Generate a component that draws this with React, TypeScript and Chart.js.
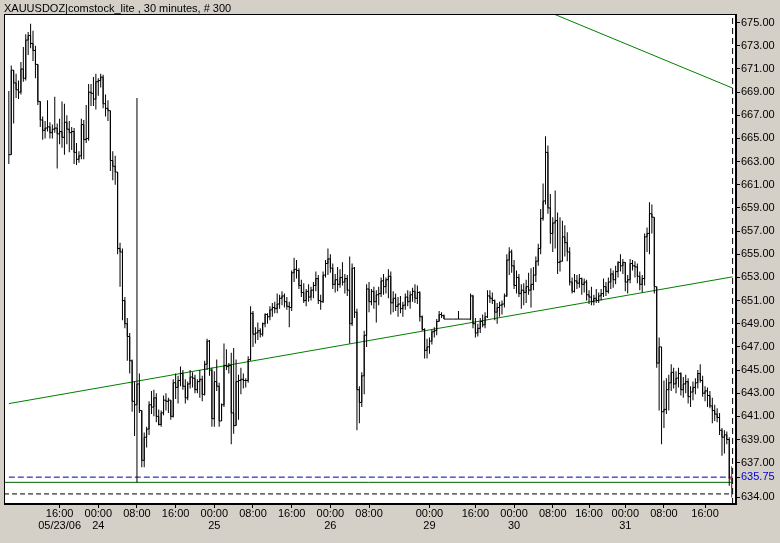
import React, { useEffect, useRef } from 'react';
import { Chart, registerables } from 'chart.js';

Chart.register(...registerables);

const TITLE = 'XAUUSDOZ|comstock_lite , 30 minutes, # 300';

const HIGHS = [
  669.1, 671.3, 670.9, 670.6, 670.0, 671.6, 672.9, 674.0, 674.2, 674.9,
  674.3, 673.0, 671.4, 668.2, 666.9, 666.5, 668.3, 666.4, 666.2, 668.6,
  666.3, 666.7, 668.2, 668.0, 667.0, 666.5, 666.0, 665.9, 664.6, 663.9,
  666.7, 666.6, 667.9, 669.7, 669.7, 670.3, 670.6, 670.2, 670.6, 670.5,
  668.8, 668.3, 667.4, 663.9, 663.5, 662.1, 656.0, 655.5, 651.3, 649.5,
  648.2, 645.9, 644.0, 668.5, 644.7, 641.5, 639.6, 640.1, 642.3, 643.2,
  643.3, 643.0, 641.6, 641.5, 642.8, 643.0, 642.6, 642.4, 644.2, 644.7,
  644.5, 645.3, 645.0, 644.2, 644.0, 645.0, 644.8, 644.6, 644.2, 645.0,
  644.5, 645.8, 647.7, 647.6, 645.2, 644.9, 645.9, 643.9, 642.1, 647.3,
  646.8, 645.6, 646.5, 646.9, 645.9, 644.6, 645.2, 644.7, 644.3, 646.2,
  650.5, 650.1, 648.7, 649.1, 648.6, 649.1, 649.9, 649.9, 650.5, 650.8,
  650.9, 651.6, 651.5, 651.8, 651.6, 651.3, 650.9, 653.6, 654.7, 654.5,
  653.8, 652.8, 652.5, 652.0, 652.4, 652.2, 652.6, 653.5, 653.2, 651.5,
  653.5, 654.5, 655.5, 655.0, 654.2, 653.3, 653.9, 653.7, 654.3, 653.3,
  653.2, 654.8, 654.2, 653.9, 650.3, 643.6, 644.8, 648.4, 652.4, 652.6,
  652.0, 652.2, 651.9, 652.2, 653.0, 653.3, 653.0, 653.7, 653.5, 651.8,
  651.6, 651.3, 651.4, 650.9, 651.6, 651.9, 651.8, 652.1, 652.4, 652.3,
  651.8, 649.7, 648.6, 647.7, 647.8, 648.5, 648.7, 649.4, 650.1, 650.0,
  649.8, 649.4, 649.4, 649.4, 649.4, 649.4, 650.1, 649.4, 649.4, 649.4,
  649.4, 651.6, 651.5, 649.5, 649.0, 649.5, 649.8, 650.0, 651.9, 651.9,
  651.7, 651.1, 650.8, 650.9, 651.0, 651.6, 655.0, 655.6, 655.4, 654.5,
  653.6, 653.3, 652.4, 652.5, 652.8, 653.4, 653.8, 653.9, 654.8, 655.9,
  658.9, 661.1, 665.2, 664.4, 660.2, 658.2, 660.5, 658.6, 658.2, 657.9,
  657.5, 656.9, 655.6, 653.0, 653.3, 653.2, 653.3, 653.0, 652.9, 652.8,
  651.9, 652.2, 651.5, 652.0, 651.7, 652.0, 652.9, 652.6, 653.0, 653.8,
  653.6, 654.0, 654.4, 655.0, 654.6, 654.3, 653.2, 654.6, 654.5, 654.4,
  654.2, 653.5, 653.2, 656.8, 657.3, 659.5, 659.3, 658.2, 652.2, 647.8,
  647.0, 644.1, 644.3, 644.6, 645.5, 645.2, 644.9, 645.2, 644.8, 644.4,
  644.6, 644.3, 643.6, 644.0, 644.3, 645.0, 645.5, 644.5, 643.6, 643.5,
  643.2, 642.6, 642.0, 641.7, 641.3, 640.0, 639.8, 639.7, 639.2, 636.7,
];

const LOWS = [
  662.8, 663.6, 666.3, 668.5, 668.4, 668.8, 669.9, 670.0, 672.2, 672.8,
  671.7, 670.2, 667.9, 666.0, 664.9, 665.0, 665.6, 665.0, 665.0, 665.5,
  662.4, 664.5, 664.2, 663.6, 664.5, 663.8, 664.0, 662.8, 662.7, 662.9,
  663.2, 663.2, 664.6, 664.8, 667.8, 667.8, 667.5, 668.7, 669.4, 667.6,
  666.9, 666.5, 662.2, 661.4, 661.0, 655.0, 652.2, 649.3, 648.6, 645.8,
  644.7, 641.4, 639.3, 635.3, 641.3, 636.6, 636.6, 638.3, 639.4, 641.2,
  641.0, 640.5, 640.2, 640.1, 641.1, 641.5, 641.3, 640.7, 640.9, 642.5,
  642.1, 643.6, 643.3, 642.1, 642.4, 643.4, 643.5, 643.0, 643.0, 642.6,
  642.3, 642.8, 645.0, 644.5, 640.1, 640.1, 643.2, 640.1, 640.7, 641.8,
  645.0, 644.7, 638.6, 639.5, 640.6, 640.7, 642.9, 643.4, 643.5, 643.9,
  645.8, 647.0, 647.3, 647.6, 647.8, 647.9, 648.7, 649.0, 649.3, 649.6,
  649.9, 649.9, 650.3, 650.6, 650.4, 650.2, 648.7, 650.1, 652.6, 652.9,
  652.0, 651.3, 650.8, 650.5, 650.9, 651.0, 651.2, 651.8, 650.7, 650.2,
  650.8, 653.0, 653.2, 653.4, 652.0, 651.7, 651.8, 652.1, 652.3, 651.6,
  651.4, 647.3, 648.8, 649.5, 639.8, 640.4, 641.8, 642.9, 647.0, 650.0,
  650.6, 650.3, 649.1, 650.6, 651.3, 651.5, 651.6, 651.2, 649.8, 650.0,
  650.1, 649.6, 649.9, 649.6, 650.2, 650.5, 650.3, 650.9, 650.8, 650.7,
  649.2, 648.4, 646.0, 646.0, 646.4, 647.2, 647.8, 648.0, 649.2, 649.5,
  649.4, 649.4, 649.4, 649.4, 649.4, 649.4, 649.4, 649.4, 649.4, 649.4,
  649.4, 649.3, 648.6, 647.8, 647.9, 648.2, 648.7, 648.6, 649.5, 650.8,
  650.7, 649.3, 649.0, 649.6, 649.8, 650.4, 651.3, 653.2, 653.4, 652.0,
  651.6, 651.3, 650.3, 650.6, 650.8, 651.5, 650.4, 651.9, 652.6, 654.0,
  655.0, 657.9, 659.3, 658.5, 655.9, 655.2, 655.5, 653.3, 653.5, 654.5,
  654.8, 654.4, 652.3, 651.6, 651.7, 652.0, 652.1, 651.5, 651.7, 651.0,
  650.7, 650.6, 650.6, 650.8, 650.8, 651.0, 651.3, 651.4, 651.6, 652.0,
  652.1, 652.4, 653.0, 653.5, 653.3, 651.8, 651.6, 652.5, 653.6, 653.0,
  652.5, 651.9, 651.7, 652.3, 655.2, 655.0, 656.8, 651.6, 645.2, 641.5,
  638.6, 640.0, 641.2, 641.5, 643.2, 643.4, 643.0, 643.5, 642.8, 642.6,
  643.0, 642.1, 641.8, 642.4, 642.9, 643.4, 643.9, 642.7, 642.3, 641.8,
  641.7, 640.4, 640.6, 640.5, 639.4, 637.6, 637.8, 638.6, 635.0, 634.0,
];

const CLOSES = [
  663.6, 670.9, 669.8, 669.2, 669.0, 671.0, 670.2, 673.5, 673.9, 673.2,
  672.6, 671.4, 668.2, 666.6, 665.7, 665.9, 666.0, 665.5, 665.8, 665.9,
  665.4, 665.6, 665.1, 666.4, 665.8, 665.5, 665.6, 663.8, 663.2, 663.5,
  666.2, 664.9, 665.0, 669.0, 668.9, 668.4, 669.9, 670.0, 670.3, 668.0,
  667.6, 667.4, 663.1, 662.6, 662.1, 655.5, 655.2, 651.0, 649.0, 647.9,
  645.8, 642.3, 642.0, 643.8, 641.5, 637.2, 639.2, 639.9, 642.0, 641.8,
  642.6, 641.0, 640.3, 641.3, 642.4, 642.3, 642.4, 641.0, 643.9, 643.5,
  644.1, 644.7, 643.6, 642.6, 643.8, 644.4, 644.3, 643.3, 644.0, 644.2,
  642.9, 645.5, 647.5, 645.0, 640.8, 644.0, 643.6, 640.6, 642.0, 645.4,
  645.3, 645.4, 641.3, 640.2, 644.0, 644.1, 644.2, 644.1, 644.1, 645.9,
  649.9, 648.1, 648.2, 648.4, 648.1, 649.0, 649.8, 649.6, 650.2, 650.4,
  650.3, 650.7, 651.2, 651.4, 650.9, 650.5, 650.4, 653.4, 653.7, 653.6,
  652.3, 651.7, 651.0, 651.8, 651.3, 651.9, 652.3, 652.9, 651.0, 650.9,
  653.2, 654.2, 654.6, 653.8, 652.4, 652.8, 652.4, 653.0, 652.6, 652.9,
  651.9, 649.0, 653.8, 650.0, 643.3, 642.2, 644.5, 648.0, 652.0, 650.9,
  651.8, 650.9, 651.5, 651.6, 652.7, 652.2, 652.8, 653.1, 650.8, 651.2,
  650.5, 650.7, 650.3, 650.6, 651.3, 650.9, 651.5, 651.8, 651.2, 651.7,
  649.6, 648.5, 646.7, 647.0, 647.5, 648.3, 648.4, 649.2, 649.8, 649.7,
  649.4, 649.4, 649.4, 649.4, 649.4, 649.4, 649.4, 649.4, 649.4, 649.4,
  649.4, 651.4, 649.0, 648.2, 648.6, 649.2, 648.9, 649.6, 651.4, 651.2,
  651.0, 650.0, 650.4, 650.6, 650.7, 651.4, 654.5, 655.2, 654.0, 652.3,
  653.0, 651.6, 651.9, 651.7, 652.2, 651.9, 652.4, 653.2, 654.4, 655.5,
  658.1, 659.6, 663.8, 659.0, 656.8, 657.7, 657.9, 654.3, 654.4, 656.5,
  656.0, 655.2, 652.6, 651.8, 652.7, 652.5, 652.9, 652.4, 652.6, 651.5,
  651.3, 650.9, 651.2, 651.0, 651.4, 651.6, 652.2, 651.8, 652.6, 653.3,
  652.8, 653.5, 654.3, 654.0, 654.3, 652.6, 652.8, 654.2, 654.0, 653.9,
  653.1, 652.4, 652.9, 656.5, 656.8, 658.5, 658.2, 652.2, 645.6, 647.0,
  641.4, 641.6, 643.3, 643.9, 644.8, 643.8, 644.3, 644.7, 643.3, 643.8,
  644.0, 642.7, 643.1, 643.5, 643.9, 644.7, 644.1, 643.0, 643.2, 642.8,
  641.9, 641.5, 641.2, 640.9, 639.8, 639.2, 639.4, 639.0, 635.6, 634.8,
];

const TICK_BARS = [21, 37, 53, 69, 85, 101, 117, 133, 149, 174, 193, 209, 225, 240, 255, 271, 288];
const TIME_LABELS = ['16:00', '00:00', '08:00', '16:00', '00:00', '08:00', '16:00', '00:00', '08:00', '00:00', '16:00', '00:00', '08:00', '16:00', '00:00', '08:00', '16:00'];
const DATE_LABELS = ['05/23/06', '24', '', '', '25', '', '', '26', '', '29', '', '30', '', '', '31', '', ''];

const PRICE_TICKS = [634, 635.75, 637, 639, 641, 643, 645, 647, 649, 651, 653, 655, 657, 659, 661, 663, 665, 667, 669, 671, 673, 675];
const LAST_PRICE = 635.75;
const SUPPORT_LEVEL = 635.3;
const LOW_LEVEL = 634.3;
const UP_TREND = [{ x: 0, y: 642.1 }, { x: 299.4, y: 653.05 }];
const DOWN_TREND = [{ x: 215, y: 676.65 }, { x: 299.4, y: 669.35 }];
const CURSOR_BAR = 299.4;
const X_MIN = -2;
const X_MAX = 300.8;
const Y_MIN = 633.43;
const Y_MAX = 675.75;

const FONT = "'Liberation Sans', Arial, sans-serif";

export default function App() {
  const ref = useRef<HTMLCanvasElement>(null);

  useEffect(() => {
    document.body.style.margin = '0';
    const canvas = ref.current;
    if (!canvas) return;
    const n = CLOSES.length;
    const bars = CLOSES.map((c, i) => {
      const o = i > 0 ? CLOSES[i - 1] : c;
      return { x: i, y: [Math.min(LOWS[i], o, c), Math.max(HIGHS[i], o, c)] };
    });
    const steps = CLOSES.map((c, i) => ({ x: i, y: c }));

    const frame = {
      id: 'frame',
      beforeDraw(chart: any) {
        const { ctx, width, height, chartArea: a } = chart;
        ctx.save();
        ctx.fillStyle = '#d4d0c8';
        ctx.fillRect(0, 0, width, height);
        ctx.fillStyle = '#ffffff';
        ctx.fillRect(a.left, a.top, a.right - a.left, a.bottom - a.top);
        ctx.restore();
      },
      afterDraw(chart: any) {
        const { ctx, chartArea: a } = chart;
        ctx.save();
        ctx.strokeStyle = '#000';
        ctx.lineWidth = 1;
        ctx.strokeRect(Math.round(a.left) + 0.5, Math.round(a.top) + 0.5, Math.round(a.right - a.left) - 1, Math.round(a.bottom - a.top) - 1);
        ctx.restore();
      },
    };

    const hline = (y: number, x0: number, x1: number) => [{ x: x0, y }, { x: x1, y }];

    const chart = new Chart(canvas, {
      type: 'line',
      data: {
        datasets: [
          {
            type: 'line',
            data: steps,
            stepped: 'before',
            borderColor: '#000',
            borderWidth: 1,
            pointRadius: 0,
            order: 1,
            segment: { borderColor: (ctx: any) => (ctx.p1DataIndex === n - 1 ? '#e00000' : undefined) },
          } as any,
          {
            type: 'bar',
            data: bars,
            backgroundColor: CLOSES.map((_, i) => (i === n - 1 ? '#e00000' : '#000')),
            barThickness: 1,
            borderWidth: 0,
            inflateAmount: 0,
            order: 2,
          } as any,
          { type: 'line', data: UP_TREND, borderColor: '#008000', borderWidth: 1, pointRadius: 0, order: 3 },
          { type: 'line', data: DOWN_TREND, borderColor: '#008000', borderWidth: 1, pointRadius: 0, order: 3 },
          { type: 'line', data: hline(SUPPORT_LEVEL, X_MIN, CURSOR_BAR), borderColor: '#006000', borderWidth: 1, pointRadius: 0, order: 4 },
          { type: 'line', data: hline(LAST_PRICE, 0, CURSOR_BAR), borderColor: '#0000a0', borderWidth: 1, borderDash: [6, 3], pointRadius: 0, order: 4 },
          { type: 'line', data: hline(LOW_LEVEL, X_MIN, CURSOR_BAR), borderColor: '#000', borderWidth: 1, borderDash: [5, 3], pointRadius: 0, order: 4 },
          { type: 'line', data: [{ x: CURSOR_BAR, y: Y_MIN }, { x: CURSOR_BAR, y: Y_MAX }], borderColor: '#000', borderWidth: 1, borderDash: [6, 4], pointRadius: 0, order: 0 },
        ] as any,
      },
      options: {
        responsive: false,
        animation: false,
        events: [],
        layout: { padding: { left: 4, right: 0, top: 0, bottom: 0 } },
        plugins: {
          legend: { display: false },
          tooltip: { enabled: false },
          title: {
            display: true,
            text: TITLE,
            align: 'start',
            color: '#000',
            font: { size: 11, family: FONT, weight: 'normal', lineHeight: 1 },
            padding: { top: 3, bottom: 0 },
          },
        },
        scales: {
          x: {
            type: 'linear',
            min: X_MIN,
            max: X_MAX,
            offset: false,
            position: 'bottom',
            afterBuildTicks: (s: any) => {
              s.ticks = TICK_BARS.map((v) => ({ value: v }));
            },
            afterFit: (s: any) => {
              s.height = 39;
            },
            grid: { offset: false, drawOnChartArea: false, drawTicks: true, tickLength: 4, color: '#000', lineWidth: 1 },
            border: { display: true, color: '#000', width: 1 },
            ticks: {
              autoSkip: false,
              maxRotation: 0,
              minRotation: 0,
              padding: 0,
              color: '#000',
              font: { size: 11, family: FONT, lineHeight: 1.1 },
              callback: (_v: any, i: number) => [TIME_LABELS[i], DATE_LABELS[i]],
            },
          },
          y: {
            type: 'linear',
            position: 'right',
            min: Y_MIN,
            max: Y_MAX,
            afterBuildTicks: (s: any) => {
              s.ticks = PRICE_TICKS.map((v) => ({ value: v }));
            },
            afterFit: (s: any) => {
              s.width = 44;
            },
            grid: { drawOnChartArea: false, tickLength: 4, color: '#000' },
            border: { display: true, color: '#000', width: 1 },
            ticks: {
              autoSkip: false,
              padding: 1,
              font: { size: 11, family: FONT },
              color: (ctx: any) => (ctx.tick && ctx.tick.value === LAST_PRICE ? '#0000cc' : '#000'),
              callback: (v: any) => Number(v).toFixed(2),
            },
          },
        },
      } as any,
      plugins: [frame],
    });
    return () => chart.destroy();
  }, []);

  return (
    <div style={{ width: 780, height: 543, background: '#d4d0c8' }}>
      <canvas ref={ref} width={780} height={543} style={{ display: 'block' }} />
    </div>
  );
}
